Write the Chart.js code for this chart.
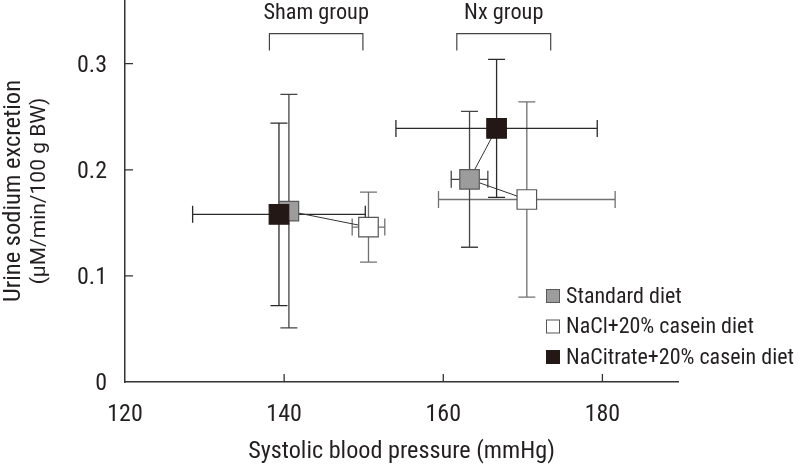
<!DOCTYPE html>
<html><head><meta charset="utf-8">
<script src="https://cdn.jsdelivr.net/npm/chart.js@4/dist/chart.umd.min.js"></script>
<style>html,body{margin:0;padding:0;background:#fff}#wrap{width:798px;height:467px;position:relative}</style>
</head><body><div id="wrap"><canvas id="c"></canvas></div>
<script>
// ---- data (per group: [Sham, Nx]) ----
const groups = ['Sham group', 'Nx group'];
const diets = ['Standard diet', 'NaCl+20% casein diet', 'NaCitrate+20% casein diet'];
const standardBP = [140.6, 163.3];
const standardBPErr = [0.6, 2.3];
const standardNa = [0.161, 0.191];
const standardNaErr = [0.110, 0.064];
const naclBP = [150.6, 170.5];
const naclBPErr = [2.05, 11.1];
const naclNa = [0.146, 0.172];
const naclNaErr = [0.033, 0.092];
const citrateBP = [139.35, 166.7];
const citrateBPErr = [10.85, 12.65];
const citrateNa = [0.158, 0.239];
const citrateNaErr = [0.086, 0.065];
const xTicks = [120, 140, 160, 180];
const yTicks = [0, 0.1, 0.2, 0.3];
const bracketFrom = [138.15, 161.7];
const bracketTo = [149.9, 173.5];

const FONT = '"Roboto Condensed", "DejaVu Sans Condensed", sans-serif';
const FONT2 = 'Roboto, "Roboto Condensed", sans-serif';
const TXT = '#231f20';

const series = [
  {label: diets[2], bp: citrateBP, bpErr: citrateBPErr, na: citrateNa, naErr: citrateNaErr, fill: '#231815', border: '#231815', err: '#2a2a2a', order: 1},
  {label: diets[0], bp: standardBP, bpErr: standardBPErr, na: standardNa, naErr: standardNaErr, fill: '#9c9c9c', border: '#5a5a5a', err: '#444444', order: 2},
  {label: diets[1], bp: naclBP, bpErr: naclBPErr, na: naclNa, naErr: naclNaErr, fill: '#ffffff', border: '#555555', err: '#707070', order: 3}
];

const pointSets = series.map(s => ({
  type: 'scatter', label: s.label, order: s.order,
  data: s.bp.map((v, i) => ({x: v, y: s.na[i]})),
  pointStyle: 'rect', pointRadius: 13.8, pointHoverRadius: 13.8,
  backgroundColor: s.fill, borderColor: s.border, borderWidth: 1.2
}));
const lineSets = groups.map((g, gi) => ({
  type: 'line', label: g, order: 4,
  data: [series[0], series[1], series[2]].map(s => ({x: s.bp[gi], y: s.na[gi]})),
  showLine: true, pointRadius: 0, borderColor: '#333', borderWidth: 1, fill: false, tension: 0
}));

const errorBars = {
  id: 'errorBars',
  beforeDatasetsDraw(chart) {
    const {ctx, scales: {x, y}} = chart;
    const cap = 8.5;
    [...series].reverse().forEach(s => {
      ctx.save();
      ctx.strokeStyle = s.err; ctx.lineWidth = 1.3;
      s.bp.forEach((bx, i) => {
        const px = x.getPixelForValue(bx), py = y.getPixelForValue(s.na[i]);
        const l = x.getPixelForValue(bx - s.bpErr[i]), r = x.getPixelForValue(bx + s.bpErr[i]);
        const t = y.getPixelForValue(s.na[i] + s.naErr[i]), b = y.getPixelForValue(s.na[i] - s.naErr[i]);
        ctx.beginPath();
        ctx.moveTo(l, py); ctx.lineTo(r, py);
        ctx.moveTo(l, py - cap); ctx.lineTo(l, py + cap);
        ctx.moveTo(r, py - cap); ctx.lineTo(r, py + cap);
        ctx.moveTo(px, t); ctx.lineTo(px, b);
        ctx.moveTo(px - cap, t); ctx.lineTo(px + cap, t);
        ctx.moveTo(px - cap, b); ctx.lineTo(px + cap, b);
        ctx.stroke();
      });
      ctx.restore();
    });
  }
};

const decor = {
  id: 'decor',
  afterDraw(chart) {
    const {ctx, scales: {x, y}, chartArea: ca} = chart;
    ctx.save();
    ctx.strokeStyle = '#333'; ctx.lineWidth = 1.3;
    ctx.beginPath();
    yTicks.forEach(v => { if (v === 0) return; const p = y.getPixelForValue(v); ctx.moveTo(ca.left, p); ctx.lineTo(ca.left + 8, p); });
    xTicks.forEach(v => { if (v === 120) return; const p = x.getPixelForValue(v); ctx.moveTo(p, ca.bottom); ctx.lineTo(p, ca.bottom - 8); });
    ctx.stroke();
    ctx.strokeStyle = '#444'; ctx.lineWidth = 1.2;
    groups.forEach((g, i) => {
      const l = x.getPixelForValue(bracketFrom[i]), r = x.getPixelForValue(bracketTo[i]);
      const top = y.getPixelForValue(0.3283), bot = y.getPixelForValue(0.3123);
      ctx.beginPath();
      ctx.moveTo(l, bot); ctx.lineTo(l, top); ctx.lineTo(r, top); ctx.lineTo(r, bot);
      ctx.stroke();
      ctx.fillStyle = TXT; ctx.font = '22.3px ' + FONT;
      ctx.textAlign = 'center'; ctx.textBaseline = 'middle';
      ctx.fillText(g, (l + r) / 2, y.getPixelForValue(0.3478));
    });
    ctx.fillStyle = TXT; ctx.textAlign = 'center'; ctx.textBaseline = 'middle';
    ctx.translate(0, 191); ctx.rotate(-Math.PI / 2);
    ctx.font = '24.5px ' + FONT; ctx.fillText('Urine sodium excretion', 0, 14);
    ctx.font = '21px ' + FONT2; ctx.fillText('(μM/min/100 g BW)', 0, 40);
    ctx.restore();
    ctx.save();
    const lx = 546, rows = [296, 326.5, 357], order = [1, 2, 0];
    ctx.font = '22px ' + FONT; ctx.textBaseline = 'middle'; ctx.textAlign = 'left';
    order.forEach((si, k) => {
      const s = series[si];
      ctx.fillStyle = s.fill; ctx.fillRect(lx, rows[k] - 7, 14, 14);
      ctx.strokeStyle = s.border; ctx.lineWidth = 1; ctx.strokeRect(lx + 0.5, rows[k] - 6.5, 13, 13);
      ctx.fillStyle = TXT; ctx.fillText(s.label, lx + 20, rows[k] + 1);
    });
    ctx.restore();
  }
};

new Chart(document.getElementById('c'), {
  data: {datasets: [...pointSets, ...lineSets]},
  options: {
    responsive: true, maintainAspectRatio: false, animation: false,
    layout: {autoPadding: false, padding: {top: 0, right: 120, bottom: 0, left: 0}},
    plugins: {legend: {display: false}, tooltip: {enabled: false}},
    scales: {
      x: {
        type: 'linear', min: 120, max: 189.5,
        afterBuildTicks: s => { s.ticks = xTicks.map(v => ({value: v})); },
        afterFit: s => { s.height = 85; s.paddingLeft = 0; s.paddingRight = 0; },
        grid: {display: false, drawTicks: false},
        border: {display: true, color: '#333', width: 1.5},
        ticks: {padding: 19, color: TXT, font: {family: FONT, size: 24}, maxRotation: 0},
        title: {display: true, text: 'Systolic blood pressure (mmHg)', color: TXT, font: {family: FONT, size: 24.2}, padding: {top: 0, bottom: 1}}
      },
      y: {
        type: 'linear', min: 0, max: 0.36,
        afterBuildTicks: s => { s.ticks = yTicks.map(v => ({value: v})); },
        afterFit: s => { s.width = 125; s.paddingTop = 0; s.paddingBottom = 0; },
        grid: {display: false, drawTicks: false},
        border: {display: true, color: '#333', width: 1.5},
        ticks: {padding: 18, labelOffset: 2, color: TXT, font: {family: FONT, size: 24}, callback: v => (v === 0 ? '0' : v.toFixed(1))}
      }
    }
  },
  plugins: [errorBars, decor]
});
</script></body></html>
